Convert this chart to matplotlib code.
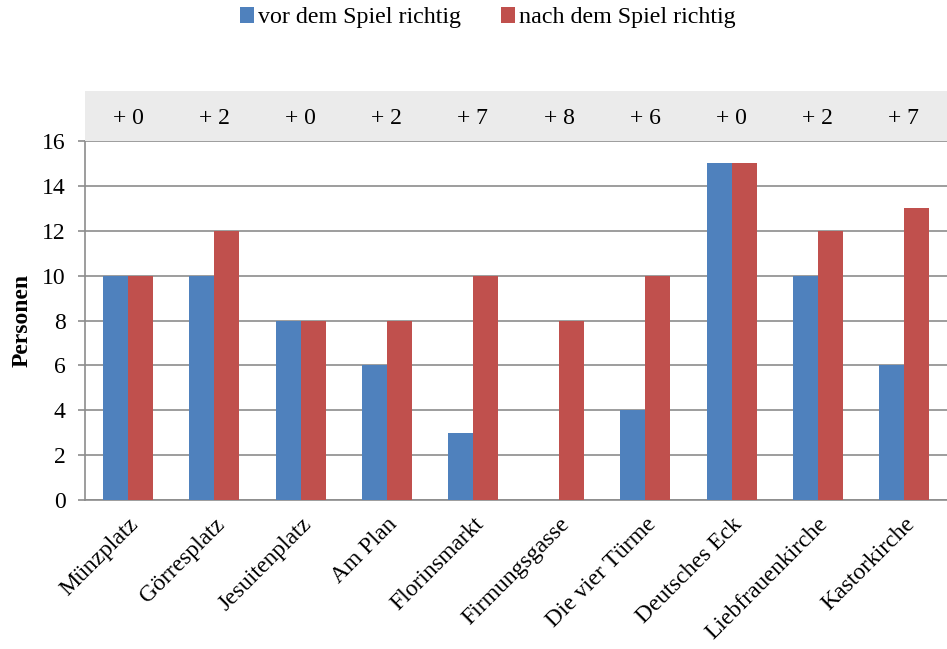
import numpy as np
import matplotlib.pyplot as plt
from matplotlib.patches import Rectangle

plt.rcParams['font.family'] = ['Liberation Serif', 'DejaVu Serif']

orte = ['Münzplatz', 'Görresplatz', 'Jesuitenplatz', 'Am Plan', 'Florinsmarkt',
        'Firmungsgasse', 'Die vier Türme', 'Deutsches Eck', 'Liebfrauenkirche', 'Kastorkirche']
vorher = [10, 10, 8, 6, 3, 0, 4, 15, 10, 6]
nachher = [10, 12, 8, 8, 10, 8, 10, 15, 12, 13]
zuwachs = ['+ 0', '+ 2', '+ 0', '+ 2', '+ 7', '+ 8', '+ 6', '+ 0', '+ 2', '+ 7']

blau = '#4F81BD'
rot = '#C0504D'
grau = '#8C8C8C'

fig = plt.figure(figsize=(9.47, 6.49), dpi=100)
ax = fig.add_axes([0.0898, 0.2296, 0.9102, 0.5531])

x = np.arange(len(orte))
w = 0.29
ax.bar(x - w / 2, vorher, w, color=blau, label='vor dem Spiel richtig', zorder=3)
ax.bar(x + w / 2, nachher, w, color=rot, label='nach dem Spiel richtig', zorder=3)

ax.set_xlim(-0.5, len(orte) - 0.5)
ax.set_ylim(0, 16)
ax.set_yticks(range(0, 17, 2))
ax.yaxis.grid(True, color=grau, linewidth=1.2, zorder=0)
ax.tick_params(axis='y', labelsize=17, length=5, width=1.2, color=grau, pad=9)
ax.tick_params(axis='x', length=0, pad=10)
ax.set_xticks(x)
ax.set_xticklabels(orte, rotation=45, ha='right', rotation_mode='anchor', fontsize=17)
for s in ['top', 'right']:
    ax.spines[s].set_visible(False)
for s in ['left', 'bottom']:
    ax.spines[s].set_color(grau)
    ax.spines[s].set_linewidth(1.2)
ax.set_ylabel('Personen', fontsize=17, fontweight='bold', labelpad=7)

# grauer Streifen mit dem Zuwachs je Ort
band = fig.add_axes([0.0898, 0.7827, 0.9102, 0.0771], sharex=ax)
band.add_patch(Rectangle((0, 0), 1, 1, transform=band.transAxes, color='#EBEBEB'))
band.set_ylim(0, 1)
band.axis('off')
for xi, t in zip(x, zuwachs):
    band.text(xi, 0.45, t, ha='center', va='center', fontsize=17)

fig.legend(loc='upper center', bbox_to_anchor=(0.515, 1.022), ncol=2, frameon=False,
           fontsize=17.3, handlelength=0.6, handleheight=0.6, handletextpad=0.15,
           columnspacing=1.65)

fig.savefig('out.png', dpi=100)
